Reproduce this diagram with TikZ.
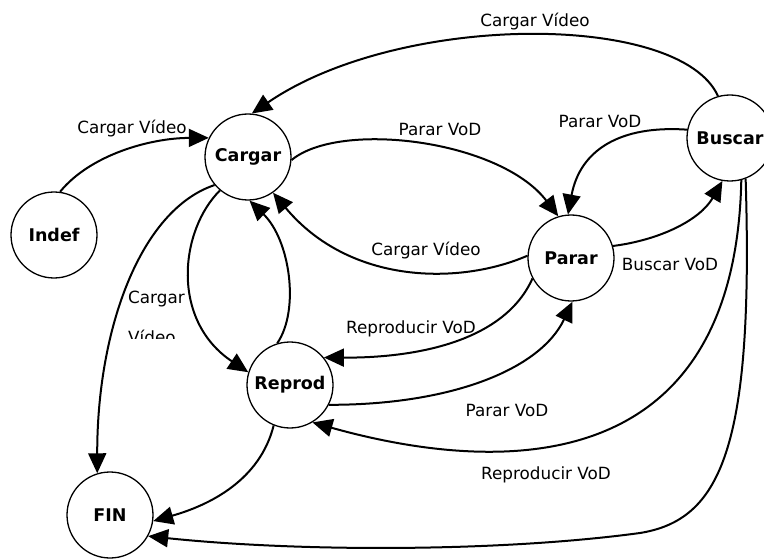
\documentclass[tikz,border=0pt]{standalone}
\usepackage{fontspec}
\setmainfont{DejaVu Sans}
\usetikzlibrary{arrows.meta}
\tikzset{
  state/.style={circle, draw=black, line width=1.3pt, minimum size=86pt, inner sep=0pt,
    font=\fontsize{17.5}{20}\selectfont\bfseries},
  trans/.style={-{Triangle[length=20pt,width=18pt]}, line width=2pt},
  lbl/.style={anchor=base, inner sep=0pt, font=\fontsize{16.8}{20}\selectfont}
}

\begin{document}
\begin{tikzpicture}[x=1pt,y=-1pt]
  \useasboundingbox (0,0) rectangle (764,559);
  \clip (0,0) rectangle (764,559);
  % states
  \node[state] (indef)  at (54,235)  {Indef};
  \node[state] (cargar) at (248,157) {Cargar};
  \node[state] (parar)  at (571,258) {Parar};
  \node[state] (buscar) at (730,138) {Buscar};
  \node[state] (reprod) at (290,385) {Reprod};
  \node[state] (fin)    at (110,515) {FIN};
  % transitions
  \draw[trans] (indef.82) .. controls (90,155) and (150,138) .. (cargar.154);
  \draw[trans] (buscar.106) .. controls (680,12) and (400,12) .. (cargar.85);
  \draw[trans] (cargar.-4) .. controls (340,120) and (500,140) .. (parar.107);
  \draw[trans] (buscar.169) .. controls (620,125) and (580,150) .. (parar.94);
  \draw[trans] (parar.16) .. controls (660,240) and (700,220) .. (buscar.-100);
  \draw[trans] (parar.177) .. controls (460,285) and (350,285) .. (cargar.-55);
  \draw[trans] (parar.-152) .. controls (505,340) and (420,358) .. (reprod.39);
  \draw[trans] (reprod.-27) .. controls (450,405) and (540,370) .. (parar.-88);
  \draw[trans] (buscar.-75) .. controls (735,480) and (500,475) .. (reprod.-59);
  \draw[trans] (buscar.-69) .. controls (754,450) and (720,520) .. (640,533)
    .. controls (500,552) and (300,552) .. (fin.-29);
  \draw[trans] (reprod.-112) .. controls (260,480) and (210,505) .. (fin.-8);
  \draw[trans] (cargar.-140) .. controls (140,210) and (97,330) .. (fin.107);
  \draw[trans] (cargar.-130) .. controls (180,230) and (170,320) .. (reprod.163);
  \draw[trans] (reprod.107) .. controls (300,310) and (290,240) .. (cargar.-88);
  % labels
  \node[lbl] (lIndef)   at (132,134) {Cargar Vídeo};
  \node[lbl] (lTop)     at (535,27)  {Cargar Vídeo};
  \node[lbl] (lParA)    at (440,136) {Parar VoD};
  \node[lbl] (lParB)    at (600,128) {Parar VoD};
  \node[lbl] (lBus)     at (670,270) {Buscar VoD};
  \node[lbl] (lCarMid)  at (426,255) {Cargar Vídeo};
  \node[lbl] (lRepA)    at (411,333) {Reproducir VoD};
  \node[lbl] (lParC)    at (507,416) {Parar VoD};
  \node[lbl] (lRepB)    at (546,479) {Reproducir VoD};
  \node[lbl, anchor=base west] (lCarL) at (128,303) {Cargar};
  \begin{scope}
    \clip (100,310) rectangle (210,338);
    \node[lbl, anchor=base west] (lVidL) at (128,343) {Vídeo};
  \end{scope}
\end{tikzpicture}
\end{document}
